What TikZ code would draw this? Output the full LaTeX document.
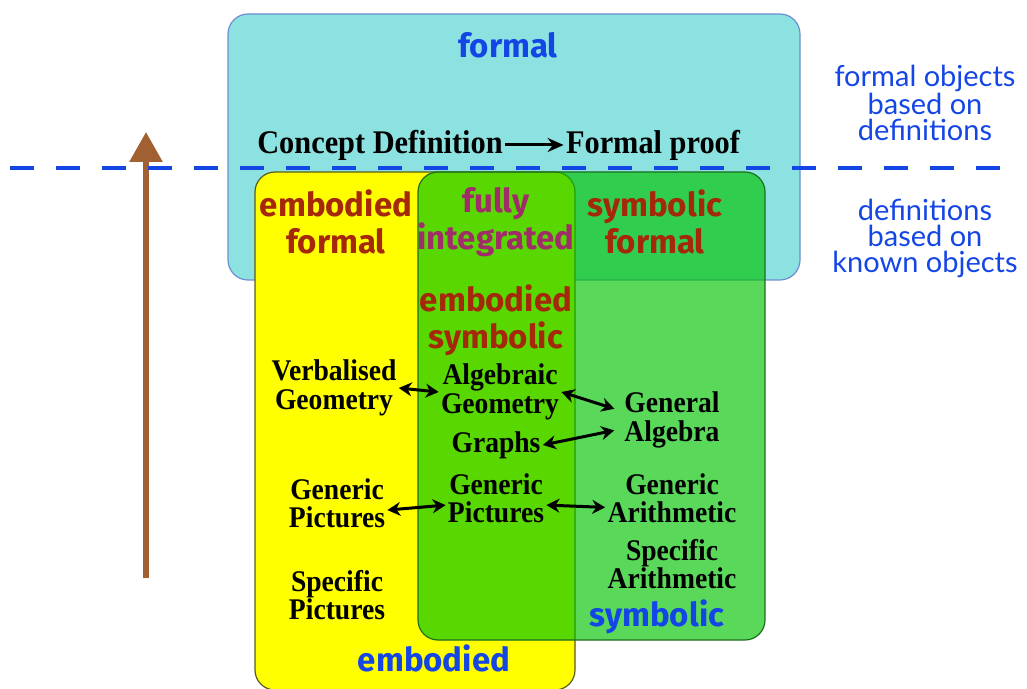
\documentclass[tikz,border=0pt]{standalone}
\usepackage{fontspec}
\setmainfont[FakeStretch=0.92]{Liberation Serif}
\newfontfamily\gill{Lato}
\newfontfamily\gillb{Fira Sans}
\usetikzlibrary{arrows.meta}

\definecolor{formalfill}{RGB}{140,226,224}
\definecolor{formaledge}{RGB}{110,140,210}
\definecolor{embfill}{RGB}{255,255,0}
\definecolor{embedge}{RGB}{90,90,30}
\definecolor{symfill}{RGB}{0,195,0}
\definecolor{symedge}{RGB}{30,110,30}
\definecolor{labblue}{RGB}{20,70,230}
\definecolor{labred}{RGB}{165,40,10}
\definecolor{labpurple}{RGB}{160,45,105}
\definecolor{growth}{RGB}{160,96,50}

\begin{document}
\begin{tikzpicture}[x=0.5pt, y=-0.5pt,
  region/.style={rounded corners=10pt, line width=0.6pt},
  tag/.style={font=\gillb\bfseries\fontsize{16.5}{18.5}\selectfont, align=center, inner sep=0pt},
  item/.style={font=\bfseries\fontsize{15}{14.2}\selectfont, align=center, inner sep=1pt},
  note/.style={font=\gill\fontsize{14.5}{13}\selectfont, text=labblue, align=center},
  link/.style={{Stealth[length=6.5pt,width=7pt]}-{Stealth[length=6.5pt,width=7pt]}, line width=1.5pt},
  lead/.style={-{Stealth[length=8pt,width=7pt]}, line width=1.5pt}]
\useasboundingbox (0,0) rectangle (1027,689);

% the three worlds
\draw[region, fill=formalfill, draw=formaledge] (228,14) rectangle (800,280);
\draw[region, fill=embfill, draw=embedge] (255,172) rectangle (575,690);
\draw[region, fill=symfill, fill opacity=0.65, draw=symedge] (418,172) rectangle (765,640);

% world labels
\node[tag, text=labblue] (wformal) at (508,45) {formal};
\node[tag, text=labblue] (wemb) at (434,658) {embodied};
\node[tag, text=labblue] (wsym) at (657,617) {symbolic};
\node[tag, text=labred] (embformal) at (336,222) {embodied\\formal};
\node[tag, text=labpurple] (fullyint) at (496,222) {fully\\integrated};
\node[tag, text=labred] (symformal) at (655,222) {symbolic\\formal};
\node[tag, text=labred] (embsym) at (496,320) {embodied\\symbolic};

% formal line
\node[font=\bfseries\fontsize{16.5}{18}\selectfont, inner sep=1pt] (cd) at (380,145) {Concept Definition};
\node[font=\bfseries\fontsize{16.5}{18}\selectfont, inner sep=1pt] (fp) at (653,145) {Formal proof};
\draw[lead] (cd) -- (fp);

% items
\node[item] (vg) at (334,388) {Verbalised\\Geometry};
\node[item] (ag) at (500,392) {Algebraic\\Geometry};
\node[item] (ga) at (672,420) {General\\Algebra};
\node[item] (gr) at (496,445) {Graphs};
\node[item] (gpl) at (337,503) {Generic\\Pictures};
\node[item] (gpm) at (496,498) {Generic\\Pictures};
\node[item] (gar) at (672,498) {Generic\\Arithmetic};
\node[item] (sar) at (672,564) {Specific\\Arithmetic};
\node[item] (spi) at (337,595) {Specific\\Pictures};

\draw[link] (vg.east) -- (ag.west);
\draw[link, shorten >=4pt] (ag.east) -- (ga.170);
\draw[link, shorten >=4pt] (gr.east) -- (ga.190);
\draw[link] (gpl.-8) -- (gpm.188);
\draw[link] (gpm.-8) -- (gar.188);

% right notes
\node[note] (nabove) at (925,103) {formal objects\\based on\\definitions};
\node[note] (nbelow) at (925,238) {definitions\\based on\\known objects};

% growth arrow
\coordinate (rise0) at (146,578);
\coordinate (rise1) at (146,132);
\draw[growth, line width=3pt, -{Triangle[length=15pt,width=16pt]}] (rise0) -- (rise1);

% boundary
\coordinate (cutl) at (10,168);
\coordinate (cutr) at (1012,168);
\draw[labblue, line width=2pt, dash pattern=on 12pt off 11pt] (cutl) -- (cutr);
\end{tikzpicture}
\end{document}
